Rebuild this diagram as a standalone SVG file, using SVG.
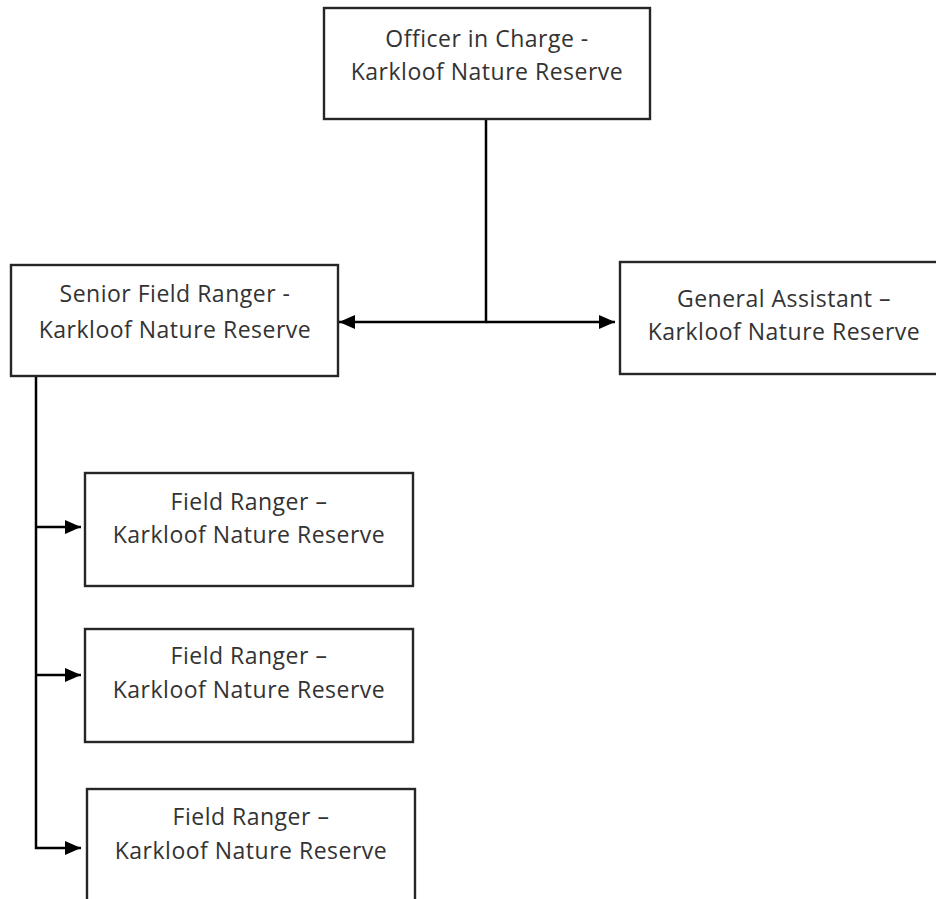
<svg xmlns="http://www.w3.org/2000/svg" width="936" height="899" viewBox="0 0 936 899">
<style>
.box{fill:#ffffff;stroke:#262626;stroke-width:2.4}
.t{font-family:"Open Sans","Liberation Sans",sans-serif;font-size:23px;fill:#333333;text-anchor:middle;letter-spacing:0.5px}
.c{fill:none;stroke:#000000;stroke-width:2.5}
</style>
<defs>
<marker id="ah" markerUnits="userSpaceOnUse" markerWidth="17" markerHeight="15" refX="16" refY="7" orient="auto">
<path d="M0,0 L16,7 L0,14 z" fill="#000000"/>
</marker>
</defs>
<rect width="936" height="899" fill="#ffffff"/>
<g id="connectors">
<path class="c" d="M486,119 V322 H339" marker-end="url(#ah)"/>
<path class="c" d="M486,322 H615" marker-end="url(#ah)"/>
<path class="c" d="M36,376 V848 H81" marker-end="url(#ah)"/>
<path class="c" d="M36,527 H81" marker-end="url(#ah)"/>
<path class="c" d="M36,675 H81" marker-end="url(#ah)"/>
</g>
<g id="officer">
<rect class="box" x="324" y="8" width="326" height="111"/>
<text class="t" x="487" y="47">Officer in Charge -</text>
<text class="t" x="487" y="80">Karkloof Nature Reserve</text>
</g>
<g id="senior">
<rect class="box" x="11" y="265" width="327" height="111"/>
<text class="t" x="175" y="302">Senior Field Ranger -</text>
<text class="t" x="175" y="338">Karkloof Nature Reserve</text>
</g>
<g id="assistant">
<rect class="box" x="620" y="262" width="328" height="112"/>
<text class="t" x="784" y="307">General Assistant –</text>
<text class="t" x="784" y="340">Karkloof Nature Reserve</text>
</g>
<g id="ranger1">
<rect class="box" x="85" y="473" width="328" height="113"/>
<text class="t" x="249" y="510">Field Ranger –</text>
<text class="t" x="249" y="543">Karkloof Nature Reserve</text>
</g>
<g id="ranger2">
<rect class="box" x="85" y="629" width="328" height="113"/>
<text class="t" x="249" y="664">Field Ranger –</text>
<text class="t" x="249" y="698">Karkloof Nature Reserve</text>
</g>
<g id="ranger3">
<rect class="box" x="87" y="789" width="328" height="113"/>
<text class="t" x="251" y="825">Field Ranger –</text>
<text class="t" x="251" y="859">Karkloof Nature Reserve</text>
</g>
</svg>
